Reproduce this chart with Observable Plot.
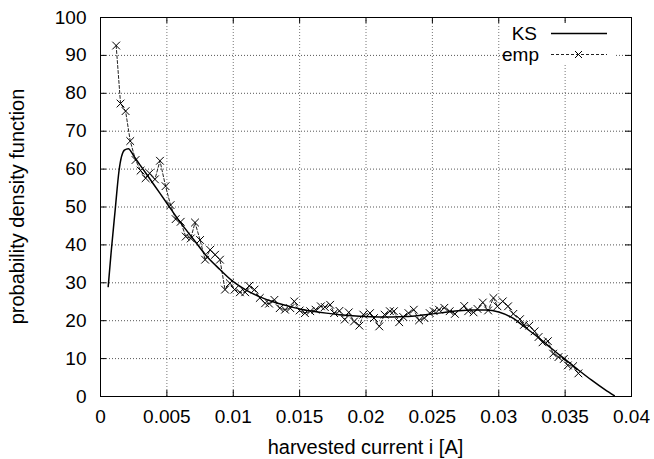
<!DOCTYPE html>
<html><head><meta charset="utf-8">
<script src="https://cdn.jsdelivr.net/npm/d3@7"></script>
<script src="https://cdn.jsdelivr.net/npm/@observablehq/plot@0.6"></script>
<style>
html,body{margin:0;padding:0;background:#fff;}
#chart{width:654px;height:459px;}
</style></head><body><div id="chart"></div>
<script>
// KS estimate (solid curve)
const ksX = [0.00058,0.0008,0.0011,0.0014,0.0018,0.0021,0.0025,0.003,0.004,0.005,0.006,0.007,0.008,0.009,0.010,0.011,0.012,0.013,0.014,0.015,0.016,0.017,0.018,0.019,0.020,0.021,0.022,0.023,0.024,0.025,0.026,0.027,0.028,0.029,0.030,0.031,0.032,0.033,0.034,0.035,0.036,0.037,0.038,0.0387];
const ksY = [29,38,49,59.7,65,65.4,63.5,61,56,51,46,41.5,37,33.5,30.3,28,26.3,25,24,23.1,22.5,22,21.6,21.3,21.1,21,21,21.1,21.4,21.8,22.2,22.6,22.8,22.8,22.3,20.8,18.2,15.5,12.6,9.8,7,4.3,1.8,0.2];
// empirical (dashed with x markers)
const empX = [0.00118,0.00151,0.00189,0.00224,0.00264,0.00302,0.0034,0.0037,0.0041,0.00448,0.0049,0.00528,0.00566,0.00604,0.00642,0.0068,0.00712,0.0075,0.00788,0.00826,0.00863,0.009,0.00938,0.00974,0.0101,0.0105,0.0109,0.0112,0.0116,0.012,0.0124,0.0127,0.0131,0.0135,0.0139,0.0143,0.0146,0.015,0.0154,0.0158,0.0162,0.0166,0.0169,0.0173,0.0176,0.018,0.0184,0.0187,0.0191,0.0195,0.0198,0.0203,0.0206,0.021,0.0214,0.0218,0.0221,0.0225,0.0228,0.0232,0.0236,0.024,0.0244,0.0248,0.0251,0.0255,0.0259,0.0263,0.0267,0.0274,0.0277,0.0281,0.0284,0.0288,0.0292,0.0296,0.0299,0.0303,0.0307,0.0311,0.0316,0.0319,0.0323,0.0327,0.033,0.0333,0.0337,0.0341,0.0345,0.0349,0.0352,0.0356,0.036];
const empY = [92.6,77.3,75.3,67.4,62.4,59.6,57.6,58.9,57.3,62.2,55.5,50.5,46.8,46.1,42.2,41.7,45.9,41.3,36.1,38.7,37.4,36.1,28.2,29.9,28.2,27.5,27.5,29.2,28.2,26,24.6,24.5,25.5,23.3,22.9,23.3,25.1,22.7,22,22.5,22.9,23.8,23.6,24.2,22,22.6,20.3,22.2,19.8,18.7,21.6,22,20.7,18.5,21.6,22.5,22.5,19.6,21,22,22.9,20.1,20.7,22,22.5,22.9,23.4,22.5,21.8,23.9,22.5,22.2,23.1,24.8,22.7,26,23.8,25.1,23.8,21.8,20.4,18.9,18.7,17.2,15.7,14.3,14.6,11.3,10.4,9.9,8.2,8,6.1];
const xTickValues = [0,0.005,0.01,0.015,0.02,0.025,0.03,0.035,0.04];
const xTickLabels = ["0","0.005","0.01","0.015","0.02","0.025","0.03","0.035","0.04"];
const yTickValues = [0,10,20,30,40,50,60,70,80,90,100];
const yTickLabels = ["0","10","20","30","40","50","60","70","80","90","100"];
const seriesNames = ["KS","emp"];
const xTitle = "harvested current i [A]";
const yTitle = "probability density function";

const ks = ksX.map((x,i)=>({x, y: ksY[i]}));
const emp = empX.map((x,i)=>({x, y: empY[i]}));

const W=654,H=459,mL=100,mR=23,mT=17,mB=63;
const pW = W-mL-mR, pH = H-mT-mB;
const font = "'Liberation Sans', Arial, Helvetica, sans-serif";
const xGrid = xTickValues.slice(1,-1), yGrid = yTickValues.slice(1,-1);

const plot = Plot.plot({
  width: W, height: H, marginLeft: mL, marginRight: mR, marginTop: mT, marginBottom: mB,
  style: {fontFamily: font, fontSize: "19px", background: "#fff", color: "#000"},
  x: {domain: [0, 0.04]},
  y: {domain: [0, 100]},
  marks: [
    Plot.gridX(xGrid, {stroke: "#777", strokeOpacity: 1, strokeDasharray: "1,2", strokeWidth: 1}),
    Plot.gridY(yGrid, {stroke: "#555", strokeOpacity: 1, strokeDasharray: "1,2", strokeWidth: 1}),
    Plot.axisX({ticks: xTickValues, tickSize: 0, tickPadding: 13, label: null,
      tickFormat: d => xTickLabels[xTickValues.indexOf(d)]}),
    Plot.axisY({ticks: yTickValues, tickSize: 0, tickPadding: 14, label: null,
      tickFormat: d => yTickLabels[yTickValues.indexOf(d)]}),
    Plot.tickX(xTickValues, {x: d => d, insetTop: pH-6, stroke: "#000"}),
    Plot.tickX(xTickValues, {x: d => d, insetBottom: pH-6, stroke: "#000"}),
    Plot.tickY(yTickValues, {y: d => d, insetLeft: pW-6, stroke: "#000"}),
    Plot.tickY(yTickValues, {y: d => d, insetRight: pW-6, stroke: "#000"}),
    Plot.line(emp, {x: "x", y: "y", stroke: "#222", strokeWidth: 1, strokeDasharray: "3,2"}),
    Plot.dot(emp, {x: "x", y: "y", symbol: "times", r: 3.6, stroke: "#000", strokeWidth: 1}),
    Plot.line(ks, {x: "x", y: "y", curve: "monotone-x", stroke: "#000", strokeWidth: 1.5}),
    Plot.frame({stroke: "#000", strokeWidth: 1})
  ]
});
document.getElementById("chart").appendChild(plot);

const svg = d3.select(plot);
// axis titles
svg.append("text").attr("x", mL + pW/2).attr("y", 454)
  .attr("text-anchor", "middle").attr("font-family", font).attr("font-size", "20px")
  .attr("fill", "#000").text(xTitle);
svg.append("text").attr("transform", `translate(24,${mT + pH/2}) rotate(-90)`)
  .attr("text-anchor", "middle").attr("font-family", font).attr("font-size", "20px")
  .attr("fill", "#000").text(yTitle);
// legend
const lg = svg.append("g");
lg.append("rect").attr("x", 503).attr("y", 23).attr("width", 112).attr("height", 41).attr("fill", "#fff");
const rows = [33.5, 54.5];
lg.append("text").attr("x", 537).attr("y", rows[0]).attr("dy", "0.35em").attr("text-anchor", "end")
  .attr("font-family", font).attr("font-size", "19px").text(seriesNames[0]);
lg.append("line").attr("x1", 551).attr("x2", 607).attr("y1", rows[0]).attr("y2", rows[0])
  .attr("stroke", "#000").attr("stroke-width", 1.5);
lg.append("text").attr("x", 539).attr("y", rows[1]).attr("dy", "0.35em").attr("text-anchor", "end")
  .attr("font-family", font).attr("font-size", "19px").text(seriesNames[1]);
lg.append("line").attr("x1", 551).attr("x2", 607).attr("y1", rows[1]).attr("y2", rows[1])
  .attr("stroke", "#222").attr("stroke-width", 1).attr("stroke-dasharray", "3,2");
lg.append("path").attr("d", `M575,${rows[1]-3.5}L582,${rows[1]+3.5}M575,${rows[1]+3.5}L582,${rows[1]-3.5}`)
  .attr("stroke", "#000").attr("stroke-width", 1);
</script>
</body></html>
